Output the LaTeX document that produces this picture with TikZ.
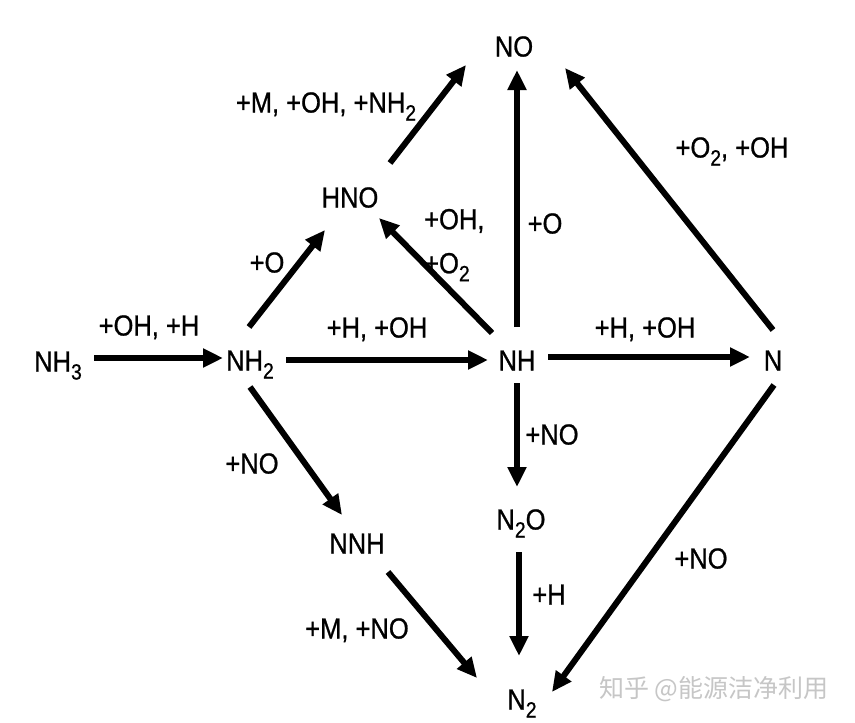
\documentclass[tikz,border=0pt]{standalone}
\usepackage{fontspec}
\setmainfont{Liberation Sans}[FakeStretch=0.88,FakeBold=0.8]
\newfontfamily\cjkfont{Noto Sans CJK SC}
\usetikzlibrary{arrows.meta}
\definecolor{MarkGray}{HTML}{C6C6C6}
\newcommand{\chemsub}[1]{\raisebox{-8pt}{\fontsize{22}{22}\selectfont #1}}
\tikzset{
  rxnarrow/.style={-{Triangle[length=20pt,width=18pt]},line width=6pt,draw=black},
  species/.style={inner sep=0pt,text height=21pt,text depth=0pt,font=\fontsize{29}{35}\selectfont},
  rate/.style={species},
  watermark/.style={inner sep=0pt,text=MarkGray,font=\cjkfont\fontsize{25}{25}\selectfont}
}

\begin{document}
\begin{tikzpicture}[x=1pt,y=-1pt]
  \fill[white] (0,0) rectangle (855,723);
  \useasboundingbox (0,0) rectangle (855,723);

  % Species.
  \node[species] (nh3) at (58,361) {NH\chemsub{3}};
  \node[species] (nh2) at (250,360) {NH\chemsub{2}};
  \node[species] (nh) at (517,360) {NH};
  \node[species] (n) at (773,360) {N};
  \node[species] (no) at (514,46) {NO};
  \node[species] (hno) at (350,197) {HNO};
  \node[species] (nnh) at (357,543) {NNH};
  \node[species] (ntwoo) at (521,519) {N\chemsub{2}O};
  \node[species] (ntwo) at (522,699) {N\chemsub{2}};

  % Reaction partners.
  \node[rate] (r-nh3) at (149,325) {+OH, +H};
  \node[rate] (r-nh2) at (377,327) {+H, +OH};
  \node[rate] (r-nh) at (645,327) {+H, +OH};
  \node[rate] (r-hnoform) at (267,262) {+O};
  \node[rate] (r-hno) at (326,102) {+M, +OH, +NH\chemsub{2}};
  \node[rate,align=left,anchor=north west] (r-nhhno) at (424,252)
    {+OH,\\[9pt]+O\chemsub{2}};
  \node[rate] (r-nhno) at (545,223) {+O};
  \node[rate] (r-nno) at (732,147) {+O\chemsub{2}, +OH};
  \node[rate] (r-nhntwoo) at (552,434) {+NO};
  \node[rate] (r-ntwoo) at (549,594) {+H};
  \node[rate] (r-nnhform) at (252,463) {+NO};
  \node[rate] (r-nnh) at (357,628) {+M, +NO};
  \node[rate] (r-nntwo) at (701,558) {+NO};

  \draw[rxnarrow] ([shift={(36,-3)}]nh3.center) -- ([shift={(-27,-2)}]nh2.center);
  \draw[rxnarrow] ([shift={(36,0)}]nh2.center) -- ([shift={(-29,0)}]nh.center);
  \draw[rxnarrow] ([shift={(31,-3)}]nh.center) -- ([shift={(-23,-3)}]n.center);
  \draw[rxnarrow] ([shift={(-1,-33)}]nh2.center) -- ([shift={(-25,33)}]hno.center);
  \draw[rxnarrow] ([shift={(40,-34)}]hno.center) -- ([shift={(-48,19)}]no.center);
  \draw[rxnarrow] ([shift={(-25,-27)}]nh.center) -- ([shift={(29,21)}]hno.center);
  \draw[rxnarrow] ([shift={(0,-33)}]nh.center) -- ([shift={(3,24)}]no.center);
  \draw[rxnarrow] ([shift={(0,-30)}]n.center) -- ([shift={(51,22)}]no.center);
  \draw[rxnarrow] ([shift={(0,23)}]nh.center) -- ([shift={(-4,-32)}]ntwoo.center);
  \draw[rxnarrow] ([shift={(-2,33)}]ntwoo.center) -- ([shift={(-3,-43)}]ntwo.center);
  \draw[rxnarrow] ([shift={(0,27)}]nh2.center) -- ([shift={(-15,-28)}]nnh.center);
  \draw[rxnarrow] ([shift={(31,29)}]nnh.center) -- ([shift={(-45,-21)}]ntwo.center);
  \draw[rxnarrow] ([shift={(1,25)}]n.center) -- ([shift={(30,-7)}]ntwo.center);

  \node[watermark] (mark) at (714,689) {知乎 @能源洁净利用};
\end{tikzpicture}
\end{document}
